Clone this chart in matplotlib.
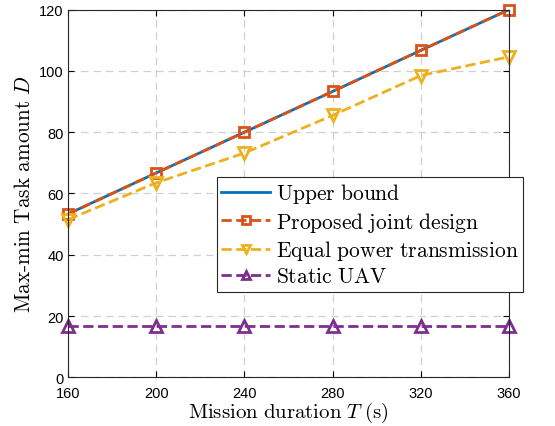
import matplotlib.pyplot as plt

plt.rcParams['mathtext.fontset'] = 'cm'
plt.rcParams['font.family'] = ['Liberation Sans', 'DejaVu Sans']

# mission duration T (s)
T = [160, 200, 240, 280, 320, 360]
upper_bound = [53.3, 66.7, 80.0, 93.3, 106.7, 120.0]
proposed = [53.3, 66.7, 80.0, 93.3, 106.7, 120.0]
equal_power = [51.5, 63.5, 73.2, 85.5, 98.5, 104.6]
static_uav = [16.6, 16.6, 16.6, 16.6, 16.6, 16.6]

fig = plt.figure(figsize=(5.55, 4.27), dpi=100)
ax = fig.add_axes([0.1225, 0.114, 0.7945, 0.861])

ax.plot(T, upper_bound, '-', color='#0072BD', lw=2, label=r'$\mathrm{Upper\ bound}$')
ax.plot(T, proposed, '--s', color='#D95319', lw=2, ms=7, mfc='none', mew=2,
        clip_on=False, label=r'$\mathrm{Proposed\ joint\ design}$')
ax.plot(T, equal_power, '--v', color='#EDB120', lw=2, ms=8.5, mfc='none', mew=2,
        clip_on=False, label=r'$\mathrm{Equal\ power\ transmission}$')
ax.plot(T, static_uav, '--^', color='#7E2F8E', lw=2, ms=8.5, mfc='none', mew=2,
        clip_on=False, label=r'$\mathrm{Static\ UAV}$')

ax.set_xlim(160, 360)
ax.set_ylim(0, 120)
ax.set_xticks(T)
ax.set_yticks(range(0, 121, 20))
ax.tick_params(direction='in', top=True, right=True, labelsize=10.5, length=4)
ax.tick_params(axis='x', pad=6)
ax.tick_params(axis='y', pad=3)
ax.grid(True, ls=(0, (6, 4)), color='#d0d0d0', lw=0.9)
for s in ax.spines.values():
    s.set_color('#262626')
    s.set_linewidth(0.8)

ax.set_xlabel(r'$\mathrm{Mission\ duration}\ T\;\mathrm{(s)}$', fontsize=15, labelpad=0)
ax.set_ylabel(r'$\mathrm{Max\text{-}min\ Task\ amount}\ D$', fontsize=15.3, labelpad=4)

leg = ax.legend(loc='lower left', bbox_to_anchor=(0.337, 0.233), fontsize=15.5,
                fancybox=False, framealpha=1, edgecolor='#262626',
                handlelength=2.3, handletextpad=0.25, borderpad=0.2,
                labelspacing=0.2, borderaxespad=0, markerscale=0.75)
leg.get_frame().set_linewidth(0.8)

fig.savefig('out.png', dpi=100)
